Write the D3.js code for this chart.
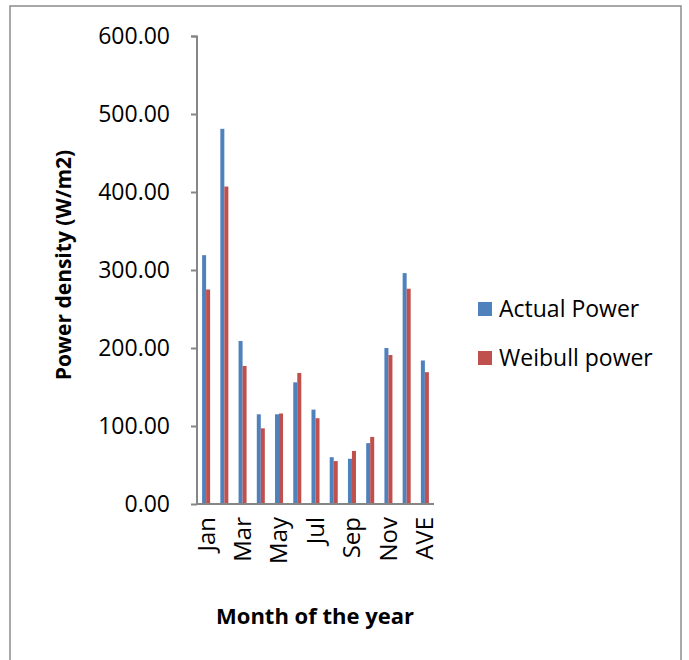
<!DOCTYPE html>
<html>
<head>
<meta charset="utf-8">
<script src="https://cdn.jsdelivr.net/npm/d3@7"></script>
<style>
  body { margin: 0; background: #fff; }
  svg { display: block; font-family: "Open Sans", sans-serif; }
</style>
</head>
<body>
<div id="chart"></div>
<script>
const months = ["Jan", "Feb", "Mar", "Apr", "May", "Jun", "Jul", "Aug", "Sep", "Oct", "Nov", "Dec", "AVE"];
const actualPower = [319, 481, 209, 115, 115, 156, 121, 60, 58, 78, 200, 296, 184];
const weibullPower = [275, 407, 177, 97, 116, 168, 110, 55, 68, 86, 191, 276, 169];
const seriesNames = ["Actual Power", "Weibull power"];
const seriesColors = ["#4F81BD", "#C0504D"];
const yTicks = [0, 100, 200, 300, 400, 500, 600];
const shownLabels = ["Jan", "Mar", "May", "Jul", "Sep", "Nov", "AVE"];

const width = 689, height = 660;
const svg = d3.select("#chart").append("svg")
  .attr("width", width)
  .attr("height", height);

// outer frame
svg.append("rect")
  .attr("x", 10).attr("y", 6)
  .attr("width", 671).attr("height", 670)
  .attr("fill", "none")
  .attr("stroke", "#8c8c8c")
  .attr("stroke-width", 1.5);

const x = d3.scaleBand().domain(months).range([197, 434]);
const y = d3.scaleLinear().domain([0, 600]).range([504, 36]);
const groupW = x.step() * 0.44;
const xInner = d3.scaleBand().domain(seriesNames).range([0, groupW]);

// y axis
const yAxis = svg.append("g")
  .attr("transform", "translate(197,0)")
  .call(d3.axisLeft(y).tickValues(yTicks).tickFormat(d3.format(".2f")).tickSize(6).tickPadding(21));
yAxis.selectAll("path, line").attr("stroke", "#868686").attr("stroke-width", 2);
yAxis.selectAll("text").attr("font-size", 23).attr("fill", "#000").attr("font-family", "Open Sans");
yAxis.select(".domain").attr("d", "M-6,36.5H0V504");

// bars
const rows = months.map((m, i) => ({ month: m, values: [actualPower[i], weibullPower[i]] }));
const groups = svg.append("g").selectAll("g")
  .data(rows)
  .join("g")
  .attr("transform", d => `translate(${x(d.month) + (x.step() - groupW) / 2},0)`);
groups.selectAll("rect")
  .data(d => d.values.map((v, j) => ({ name: seriesNames[j], value: v, color: seriesColors[j] })))
  .join("rect")
  .attr("x", d => xInner(d.name))
  .attr("width", xInner.bandwidth())
  .attr("y", d => y(d.value))
  .attr("height", d => y(0) - y(d.value))
  .attr("fill", d => d.color);

// x axis
const xAxis = svg.append("g")
  .attr("transform", "translate(0,504)")
  .call(d3.axisBottom(x).tickSize(0).tickPadding(0).tickFormat(d => shownLabels.includes(d) ? d : ""));
xAxis.select(".domain").attr("stroke", "#868686").attr("stroke-width", 2).attr("d", "M196,0H434");
xAxis.selectAll("text")
  .attr("font-size", 24)
  .attr("fill", "#000")
  .attr("font-family", "Open Sans")
  .attr("text-anchor", "end")
  .attr("transform", "translate(0,13) rotate(-90)")
  .attr("y", 0)
  .attr("dy", "0.35em");

// axis titles
svg.append("text")
  .attr("transform", "translate(71,265) rotate(-90)")
  .attr("text-anchor", "middle")
  .attr("font-size", 21)
  .attr("font-weight", "bold")
  .text("Power density (W/m2)");

svg.append("text")
  .attr("x", 315).attr("y", 624)
  .attr("text-anchor", "middle")
  .attr("font-size", 22)
  .attr("font-weight", "bold")
  .text("Month of the year");

// legend
const legend = svg.append("g").selectAll("g")
  .data(seriesNames)
  .join("g")
  .attr("transform", (d, i) => `translate(478,${309 + i * 49})`);
legend.append("rect")
  .attr("x", 0).attr("y", -7)
  .attr("width", 14).attr("height", 14)
  .attr("fill", (d, i) => seriesColors[i]);
legend.append("text")
  .attr("x", 21).attr("dy", "0.36em")
  .attr("font-size", 23)
  .text(d => d);
</script>
</body>
</html>
